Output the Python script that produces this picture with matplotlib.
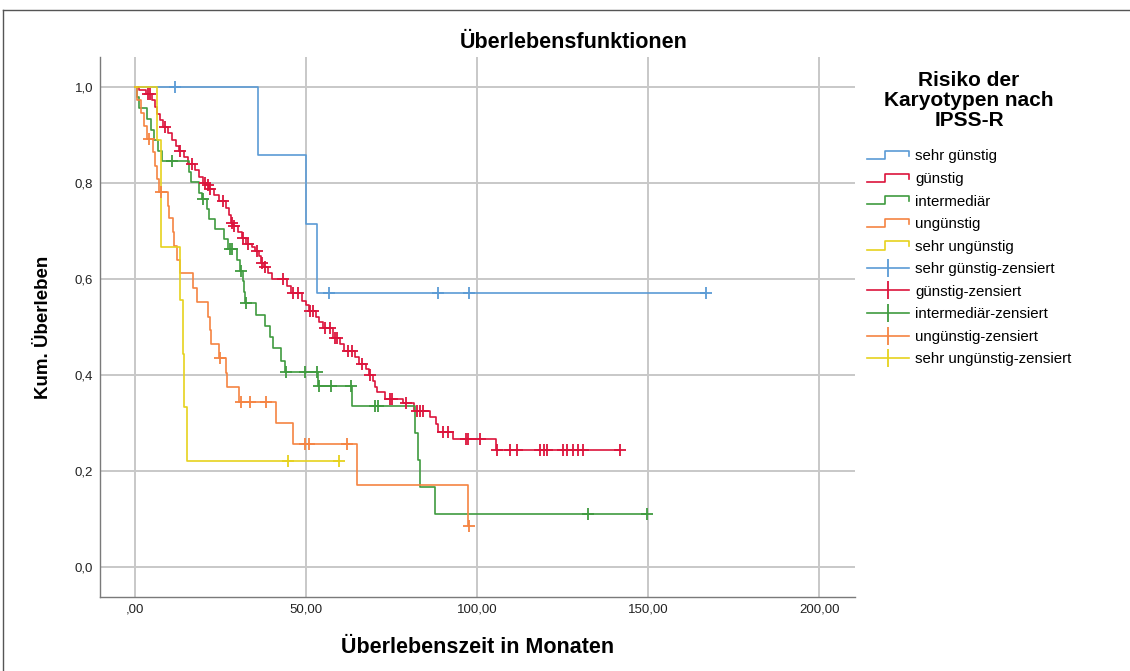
import numpy as np
import matplotlib.pyplot as plt
from matplotlib.lines import Line2D
from matplotlib.legend_handler import HandlerBase

plt.rcParams['font.family'] = ['Liberation Sans', 'DejaVu Sans']

# Kaplan-Meier curves (months, cumulative survival after each event)
groups = ['sehr günstig', 'günstig', 'intermediär', 'ungünstig', 'sehr ungünstig']
colors = ['#5b9bd5', '#dc143c', '#3f9b3f', '#f58442', '#e6d21e']

sg_event_t = [36.0, 50.0, 53.2]
sg_event_s = [0.857, 0.714, 0.571]
sg_cens_t = [11.7, 56.7, 88.6, 97.7, 167.0]

g_event_t = [1.2, 3.2, 5.0, 5.8, 6.4, 7.3, 8.2, 9.6, 10.8, 12.0, 12.9, 14.3, 15.5, 17.5,
             18.7, 19.9, 21.1, 21.6, 23.1, 24.6, 26.6, 27.5, 28.1, 28.7, 30.1, 31.3, 32.5,
             34.2, 35.1, 36.3, 36.8, 37.7, 38.9, 40.1, 44.4, 45.6, 48.8, 50.0, 50.9, 52.9,
             53.8, 55.0, 57.9, 59.9, 61.1, 64.3, 65.5, 67.5, 68.4, 69.6, 70.2, 70.8, 73.1,
             78.4, 81.6, 86.3, 88.0, 88.6, 93.0, 105.6]
g_event_s = [0.993, 0.985, 0.972, 0.958, 0.944, 0.930, 0.917, 0.903, 0.890, 0.877, 0.867,
             0.853, 0.840, 0.826, 0.812, 0.800, 0.795, 0.788, 0.775, 0.763, 0.748, 0.734,
             0.717, 0.711, 0.698, 0.686, 0.673, 0.666, 0.659, 0.647, 0.634, 0.624, 0.612,
             0.600, 0.585, 0.570, 0.555, 0.545, 0.534, 0.520, 0.510, 0.497, 0.478, 0.465,
             0.451, 0.438, 0.424, 0.412, 0.400, 0.388, 0.376, 0.364, 0.351, 0.341, 0.326,
             0.312, 0.299, 0.281, 0.266, 0.245]
g_cens_t = [3.8, 4.4, 8.8, 13.2, 16.7, 20.5, 21.3, 21.9, 25.7, 28.4, 28.9, 31.6, 33.0, 35.7,
            37.1, 38.0, 43.3, 46.2, 47.7, 51.2, 52.0, 55.6, 57.0, 58.5, 59.1, 62.3, 63.5,
            66.4, 68.7, 74.6, 75.1, 79.2, 82.5, 83.3, 84.2, 90.1, 91.5, 96.8, 97.4, 100.9,
            105.8, 109.6, 111.7, 118.4, 119.6, 120.5, 125.1, 126.3, 128.1, 129.5, 131.0, 141.8]

i_event_t = [0.6, 1.2, 3.5, 4.7, 5.6, 6.7, 7.9, 15.8, 16.4, 18.8, 19.5, 21.0, 21.6, 23.4,
             26.0, 27.2, 29.8, 30.7, 31.6, 32.0, 32.2, 35.3, 37.9, 39.5, 40.4, 42.6, 44.0,
             53.5, 63.6, 81.9, 82.7, 83.3, 87.8]
i_event_s = [0.978, 0.956, 0.933, 0.911, 0.889, 0.867, 0.845, 0.823, 0.801, 0.779, 0.767,
             0.745, 0.725, 0.705, 0.684, 0.663, 0.640, 0.617, 0.595, 0.572, 0.549, 0.526,
             0.502, 0.479, 0.456, 0.430, 0.406, 0.378, 0.335, 0.279, 0.223, 0.167, 0.111]
i_cens_t = [10.8, 20.0, 27.8, 28.4, 31.0, 32.4, 44.2, 49.7, 53.3, 53.8, 57.3, 63.2, 70.2,
            71.1, 132.5, 149.6]

u_event_t = [0.6, 1.8, 2.6, 3.5, 5.3, 6.0, 6.6, 7.0, 9.7, 9.9, 11.2, 11.5, 12.2, 13.2,
             17.1, 18.3, 21.4, 22.0, 22.2, 24.6, 26.6, 26.8, 30.5, 41.2, 46.2, 64.9, 97.4]
u_event_s = [0.973, 0.946, 0.919, 0.892, 0.864, 0.836, 0.808, 0.780, 0.752, 0.726, 0.697,
             0.669, 0.640, 0.612, 0.581, 0.552, 0.520, 0.493, 0.465, 0.435, 0.405, 0.375,
             0.344, 0.300, 0.256, 0.171, 0.085]
u_cens_t = [4.1, 7.5, 25.0, 30.9, 33.6, 38.3, 49.7, 50.9, 62.0, 97.8]

su_event_t = [6.4, 7.6, 13.2, 14.0, 14.4, 15.1]
su_event_s = [0.889, 0.667, 0.556, 0.444, 0.333, 0.222]
su_cens_t = [44.7, 59.6]

event_t = [sg_event_t, g_event_t, i_event_t, u_event_t, su_event_t]
event_s = [sg_event_s, g_event_s, i_event_s, u_event_s, su_event_s]
cens_t = [sg_cens_t, g_cens_t, i_cens_t, u_cens_t, su_cens_t]

x_ticks = [0, 50, 100, 150, 200]
x_ticklabels = [',00', '50,00', '100,00', '150,00', '200,00']
y_ticks = [0.0, 0.2, 0.4, 0.6, 0.8, 1.0]
y_ticklabels = ['0,0', '0,2', '0,4', '0,6', '0,8', '1,0']


def surv_at(et, es, times):
    # value of the step curve at the given times
    idx = np.searchsorted(et, times, side='right')
    return np.concatenate([[1.0], es])[idx]


class StepHandler(HandlerBase):
    def create_artists(self, legend, orig_handle, xdescent, ydescent,
                       width, height, fontsize, trans):
        x0, y0 = -xdescent, -ydescent
        xs = [x0, x0 + 0.45 * width, x0 + 0.45 * width, x0 + width, x0 + width]
        ys = [y0 + 0.1 * height, y0 + 0.1 * height, y0 + 0.9 * height,
              y0 + 0.9 * height, y0 + 0.4 * height]
        line = Line2D(xs, ys, color=orig_handle.get_color(), lw=1.2)
        line.set_transform(trans)
        return [line]


fig = plt.figure(figsize=(11.3, 6.71), dpi=100)
ax = fig.add_axes([100 / 1130, 74 / 671, 755 / 1130, 540 / 671])

for et, es, ct, col in zip(event_t, event_s, cens_t, colors):
    et = np.array(et)
    es = np.array(es)
    ct = np.array(ct)
    end = max(et.max(), ct.max())
    ts = np.concatenate([[0], et, [end]])
    ss = np.concatenate([[1.0], es, [es[-1]]])
    ax.step(ts, ss, where='post', color=col, lw=1.2, zorder=3)
    ax.plot(ct, surv_at(et, es, ct), linestyle='none', marker='+', ms=9, mew=1.3,
            color=col, zorder=4)

ax.set_xlim(-10.2, 210.5)
ax.set_ylim(-0.062, 1.062)
ax.set_xticks(x_ticks)
ax.set_xticklabels(x_ticklabels)
ax.set_yticks(y_ticks)
ax.set_yticklabels(y_ticklabels)
ax.tick_params(length=0, labelsize=9.5, labelcolor='#222222')
ax.tick_params(axis='y', pad=5)
ax.tick_params(axis='x', pad=5)
ax.grid(True, color='#c8c8c8', lw=1.4)
ax.set_axisbelow(True)
for side in ['top', 'right']:
    ax.spines[side].set_visible(False)
for side in ['left', 'bottom']:
    ax.spines[side].set_color('#7a7a7a')
    ax.spines[side].set_linewidth(1.0)

ax.set_xlabel('Überlebenszeit in Monaten', fontsize=15.5, fontweight='bold', labelpad=15)
ax.set_ylabel('Kum. Überleben', fontsize=13.5, fontweight='bold', labelpad=16)
fig.text(574 / 1130, 1 - 42 / 671, 'Überlebensfunktionen', fontsize=15.5, fontweight='bold',
         ha='center', va='center')

# legend
handles = [Line2D([], [], color=c) for c in colors]
handles += [Line2D([], [], color=c, marker='|', ms=13, mew=1.3, lw=1.2) for c in colors]
labels = groups + [g + '-zensiert' for g in groups]
handler_map = {h: StepHandler() for h in handles[:5]}
leg = fig.legend(handles, labels, handler_map=handler_map, loc='upper left',
                 bbox_to_anchor=(859 / 1130, 1 - 64 / 671), frameon=False, fontsize=10.8,
                 title='Risiko der\nKaryotypen nach\nIPSS-R',
                 title_fontproperties={'weight': 'bold', 'size': 15},
                 handlelength=2.8, handletextpad=0.45, labelspacing=0.57, borderpad=0,
                 numpoints=1, alignment='center')
leg.get_title().set_multialignment('center')
leg.get_title().set_linespacing(1.05)
leg._legend_box.sep = 14

# outer frame (top and left edges)
fig.add_artist(Line2D([3 / 1130, 1], [1 - 10 / 671, 1 - 10 / 671], color='#555555', lw=1.0))
fig.add_artist(Line2D([3 / 1130, 3 / 1130], [0, 1 - 10 / 671], color='#555555', lw=1.0))

fig.savefig('out.png', dpi=100, facecolor='white')
